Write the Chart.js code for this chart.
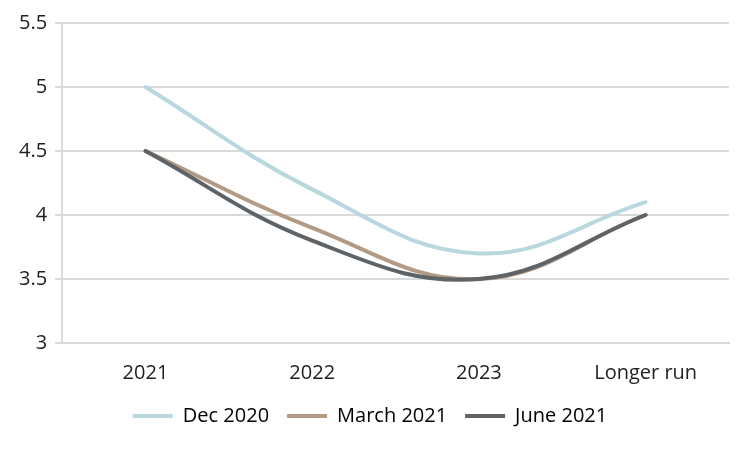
<!DOCTYPE html>
<html>
<head>
<meta charset="utf-8">
<script src="https://cdn.jsdelivr.net/npm/chart.js@4"></script>
<style>
  html, body { margin: 0; padding: 0; background: #fff; }
  #wrap { width: 751px; height: 450px; }
</style>
</head>
<body>
<div id="wrap"><canvas id="rateChart"></canvas></div>
<script>
const categories = ['2021', '2022', '2023', 'Longer run'];
const dec2020 = [5.0, 4.2, 3.7, 4.1];
const march2021 = [4.5, 3.9, 3.5, 4.0];
const june2021 = [4.5, 3.8, 3.5, 4.0];
const yTicks = [3, 3.5, 4, 4.5, 5, 5.5];

const ctx = document.getElementById('rateChart');
Chart.defaults.font.family = "'Open Sans', sans-serif";
Chart.defaults.color = '#222';

function line(label, data, color, order) {
  return {
    label: label,
    data: data,
    borderColor: color,
    backgroundColor: color,
    borderWidth: 4,
    tension: 0.4,
    pointRadius: 0,
    borderCapStyle: 'round',
    order: order,
    fill: false
  };
}

new Chart(ctx, {
  type: 'line',
  data: {
    labels: categories,
    datasets: [
      line('Dec 2020', dec2020, '#b9d7df', 3),
      line('March 2021', march2021, '#b29a84', 2),
      line('June 2021', june2021, '#5e6367', 1)
    ]
  },
  options: {
    responsive: true,
    maintainAspectRatio: false,
    animation: false,
    layout: { padding: { top: 23, right: 22, left: 11, bottom: 14 } },
    plugins: {
      tooltip: { enabled: false },
      legend: {
        position: 'bottom',
        labels: {
          boxWidth: 40,
          boxHeight: 4,
          padding: 18,
          font: { size: 20 },
          generateLabels: (chart) => chart.data.datasets.map((ds, i) => ({
            text: ds.label,
            fillStyle: ds.borderColor,
            strokeStyle: ds.borderColor,
            lineWidth: 0,
            datasetIndex: i,
            hidden: false
          }))
        }
      }
    },
    scales: {
      x: {
        offset: true,
        afterFit: (scale) => { scale.height -= 15; },
        grid: { display: false, drawTicks: false },
        border: { color: '#d9d9d9', width: 2 },
        ticks: { font: { size: 20 }, padding: 18 }
      },
      y: {
        min: 3,
        max: 5.5,
        afterBuildTicks: (axis) => { axis.ticks = yTicks.map(v => ({ value: v })); },
        grid: { color: '#d9d9d9', lineWidth: 2, tickLength: 7 },
        border: { color: '#d9d9d9', width: 2 },
        ticks: { font: { size: 20 }, padding: 8, callback: (v) => String(v) }
      }
    }
  }
});
</script>
</body>
</html>
